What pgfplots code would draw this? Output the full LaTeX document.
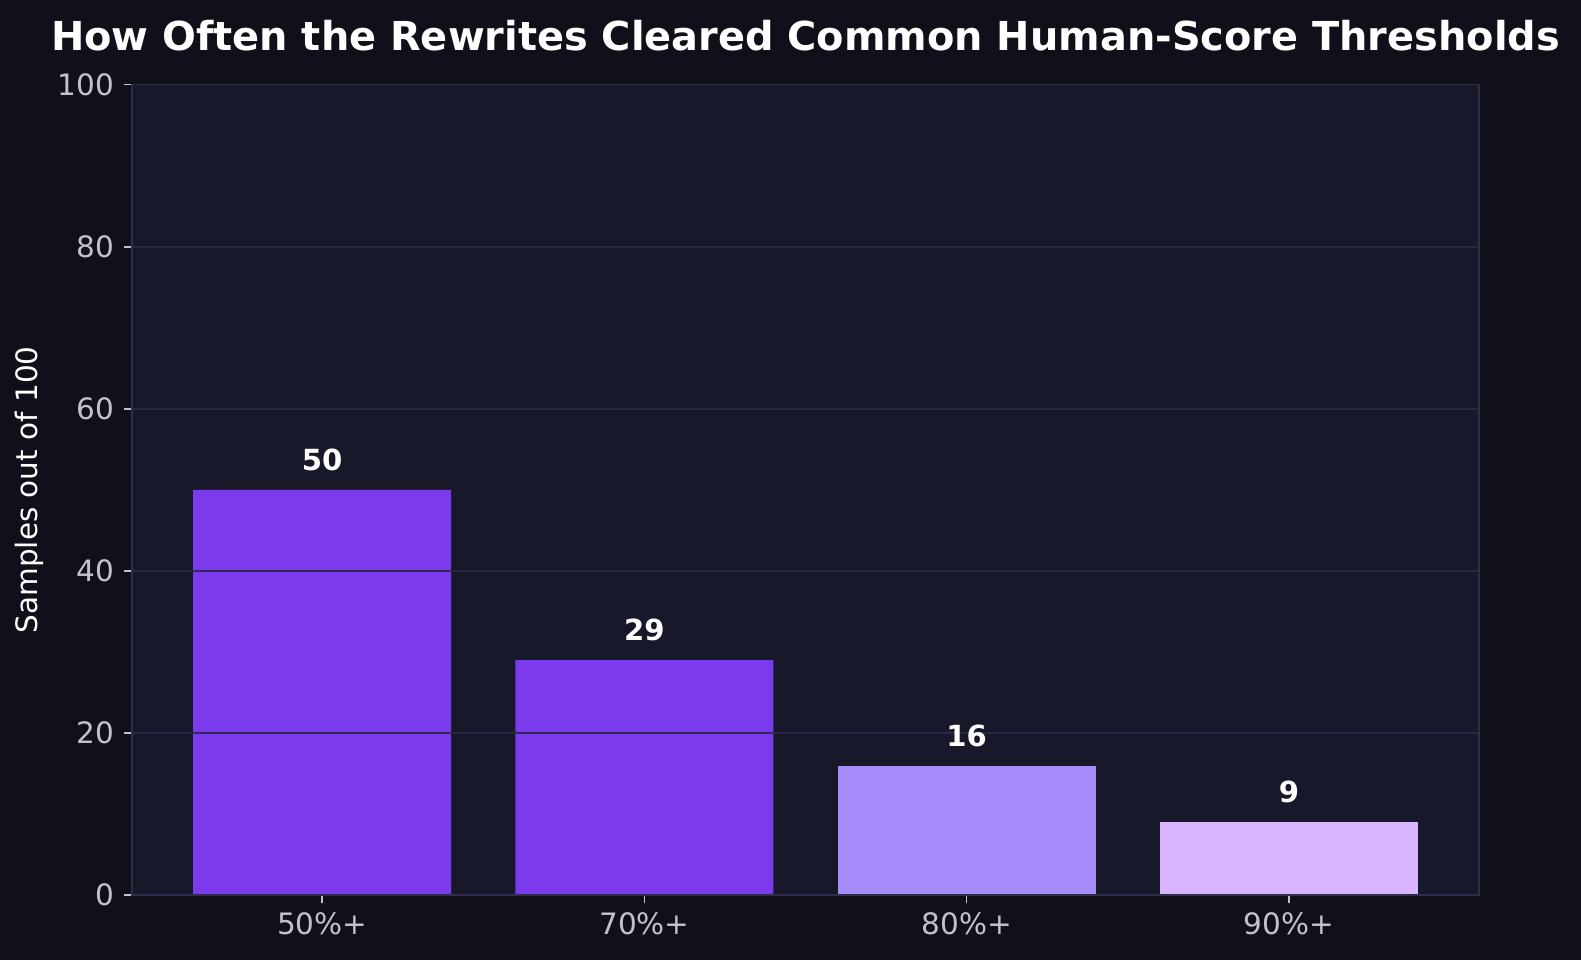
\documentclass[border=0pt]{standalone}
\usepackage{pgfplots}
\pgfplotsset{compat=1.18}
\usepackage{fontspec}
\setmainfont{DejaVu Sans}
\usetikzlibrary{backgrounds}

\definecolor{figbg}{HTML}{0F1019}
\definecolor{axbg}{HTML}{18182B}
\definecolor{spine}{HTML}{2E2E4A}
\definecolor{gridc}{HTML}{2A2A45}
\definecolor{tickc}{HTML}{C2C2CC}
\definecolor{violetA}{HTML}{7C3AED}
\definecolor{violetB}{HTML}{A78BFA}
\definecolor{violetC}{HTML}{D8B4FE}

\begin{document}
\begin{tikzpicture}
\begin{axis}[
  name=ax,
  width=673.5bp, height=405.3bp,
  scale only axis,
  axis background/.style={fill=axbg},
  axis line style={spine, line width=0.8bp},
  xmin=-0.59, xmax=3.59,
  ymin=0, ymax=100,
  xtick={0,1,2,3},
  xticklabels={50\%+,70\%+,80\%+,90\%+},
  ytick={0,20,40,60,80,100},
  tick align=outside,
  major tick length=4bp,
  tick style={tickc, line width=0.8bp},
  xtick pos=bottom, ytick pos=left,
  ymajorgrids,
  major grid style={gridc, line width=0.8bp, opacity=0.9},
  axis on top,
  ticklabel style={font=\fontsize{14.8}{17}\selectfont, text=tickc},
  yticklabel style={xshift=-1.5bp},
  xticklabel style={yshift=-1bp},
  /pgf/number format/assume math mode=true,
  ylabel={Samples out of 100},
  ylabel style={font=\fontsize{14.8}{17}\selectfont, text=white, yshift=0bp},
  title={\bfseries How Often the Rewrites Cleared Common Human-Score Thresholds},
  title style={font=\fontsize{20}{24}\selectfont, text=white, yshift=7.5bp},
  ybar, bar width=0.8, bar shift=0pt,
  nodes near coords,
  every node near coord/.append style={font=\bfseries\fontsize{14.6}{17}\selectfont, text=white, yshift=6bp},
]
\addplot[fill=violetA, draw=none] coordinates {(0,50) (1,29)};
\addplot[fill=violetB, draw=none] coordinates {(2,16)};
\addplot[fill=violetC, draw=none] coordinates {(3,9)};
\end{axis}
\begin{scope}[on background layer]
\fill[figbg] ([shift={(-66bp,-32.3bp)}]ax.south west) rectangle ([shift={(51bp,42.3bp)}]ax.north east);
\end{scope}
\end{tikzpicture}
\end{document}
